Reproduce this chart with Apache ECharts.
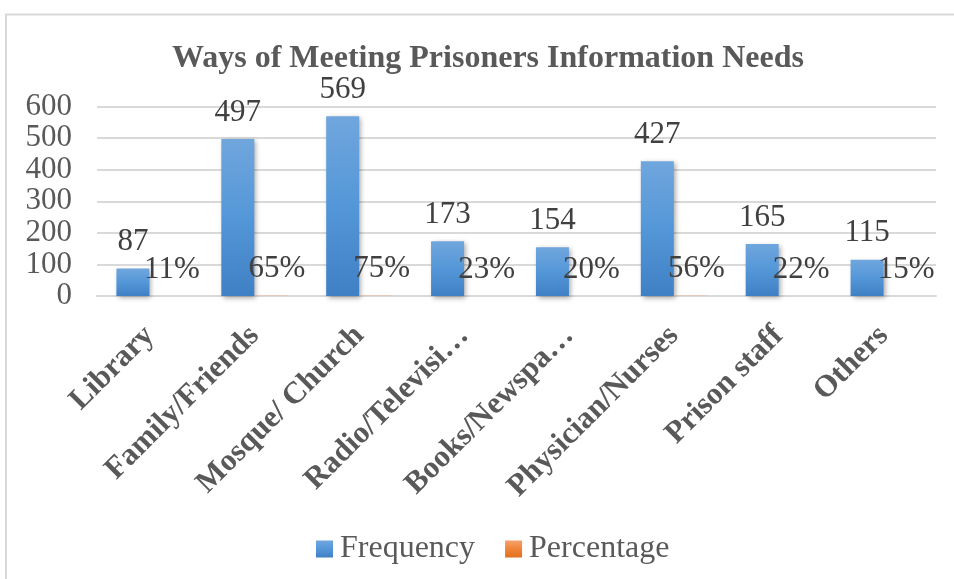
<!DOCTYPE html>
<html>
<head>
<meta charset="utf-8">
<script src="https://cdn.jsdelivr.net/npm/echarts@6/dist/echarts.min.js"></script>
<style>
  html, body { margin: 0; padding: 0; background: #fff; }
  #chart { width: 954px; height: 579px; }
</style>
</head>
<body>
<div id="chart"></div>
<script>
// data
var categories = ["Library", "Family/Friends", "Mosque/ Church", "Radio/Televisi\u2026",
  "Books/Newspa\u2026", "Physician/Nurses", "Prison staff", "Others"];
var frequency = [87, 497, 569, 173, 154, 427, 165, 115];
var percentage = [0.11, 0.65, 0.75, 0.23, 0.20, 0.56, 0.22, 0.15];
var yTicks = [0, 100, 200, 300, 400, 500, 600];

var font = "'Liberation Serif', 'Times New Roman', serif";

var blue = new echarts.graphic.LinearGradient(0, 0, 0, 1, [
  { offset: 0, color: "#70a6dd" },
  { offset: 0.5, color: "#5497d8" },
  { offset: 1, color: "#3f80c4" }
]);
var orange = new echarts.graphic.LinearGradient(0, 0, 0, 1, [
  { offset: 0, color: "#f5a26c" },
  { offset: 0.5, color: "#f08436" },
  { offset: 1, color: "#e0701e" }
]);

var chart = echarts.init(document.getElementById("chart"));
var option = {
  animation: false,
  textStyle: { fontFamily: font },
  graphic: [{
    type: "rect",
    silent: true,
    shape: { x: 6, y: 14.5, width: 1100, height: 1100 },
    style: { fill: "none", stroke: "#d9d9d9", lineWidth: 2 }
  }],
  title: {
    text: "Ways of Meeting Prisoners Information Needs",
    left: 167,
    top: 38,
    textStyle: { fontFamily: font, fontSize: 32, fontWeight: "bold", color: "#595959" }
  },
  legend: {
    bottom: 9,
    left: 311,
    icon: "rect",
    itemWidth: 17,
    itemHeight: 17,
    itemGap: 30,
    textStyle: { fontFamily: font, fontSize: 32, color: "#595959", padding: [0, 0, 0, 2] },
    data: ["Frequency", "Percentage"]
  },
  grid: { left: 97, right: 18, top: 106.5, bottom: 283 },
  xAxis: {
    type: "category",
    data: categories,
    axisLine: { lineStyle: { color: "#d9d9d9", width: 2 } },
    axisTick: { show: false },
    axisLabel: {
      interval: 0,
      rotate: 45,
      margin: 35,
      fontFamily: font,
      fontSize: 31,
      fontWeight: "bold",
      color: "#595959"
    }
  },
  yAxis: {
    type: "value",
    min: yTicks[0],
    max: yTicks[yTicks.length - 1],
    interval: 100,
    axisLine: { show: false },
    axisTick: { show: false },
    splitLine: { lineStyle: { color: "#d9d9d9", width: 2 } },
    axisLabel: { margin: 25, fontFamily: font, fontSize: 31, color: "#595959" }
  },
  series: [
    {
      name: "Frequency",
      type: "bar",
      data: frequency,
      barWidth: 33,
      barGap: "0%",
      itemStyle: {
        color: blue,
        shadowColor: "rgba(0,0,0,0.35)",
        shadowBlur: 5,
        shadowOffsetX: 2,
        shadowOffsetY: 2
      },
      label: {
        show: true,
        position: "top",
        distance: 11,
        fontFamily: font,
        fontSize: 31,
        color: "#404040"
      }
    },
    {
      name: "Percentage",
      type: "bar",
      data: percentage,
      barWidth: 33,
      itemStyle: { color: orange },
      label: {
        show: true,
        position: "top",
        distance: 11,
        offset: [6, 0],
        fontFamily: font,
        fontSize: 31,
        color: "#404040",
        formatter: function (p) { return Math.round(p.value * 100) + "%"; }
      }
    }
  ]
};
chart.setOption(option);
</script>
</body>
</html>
